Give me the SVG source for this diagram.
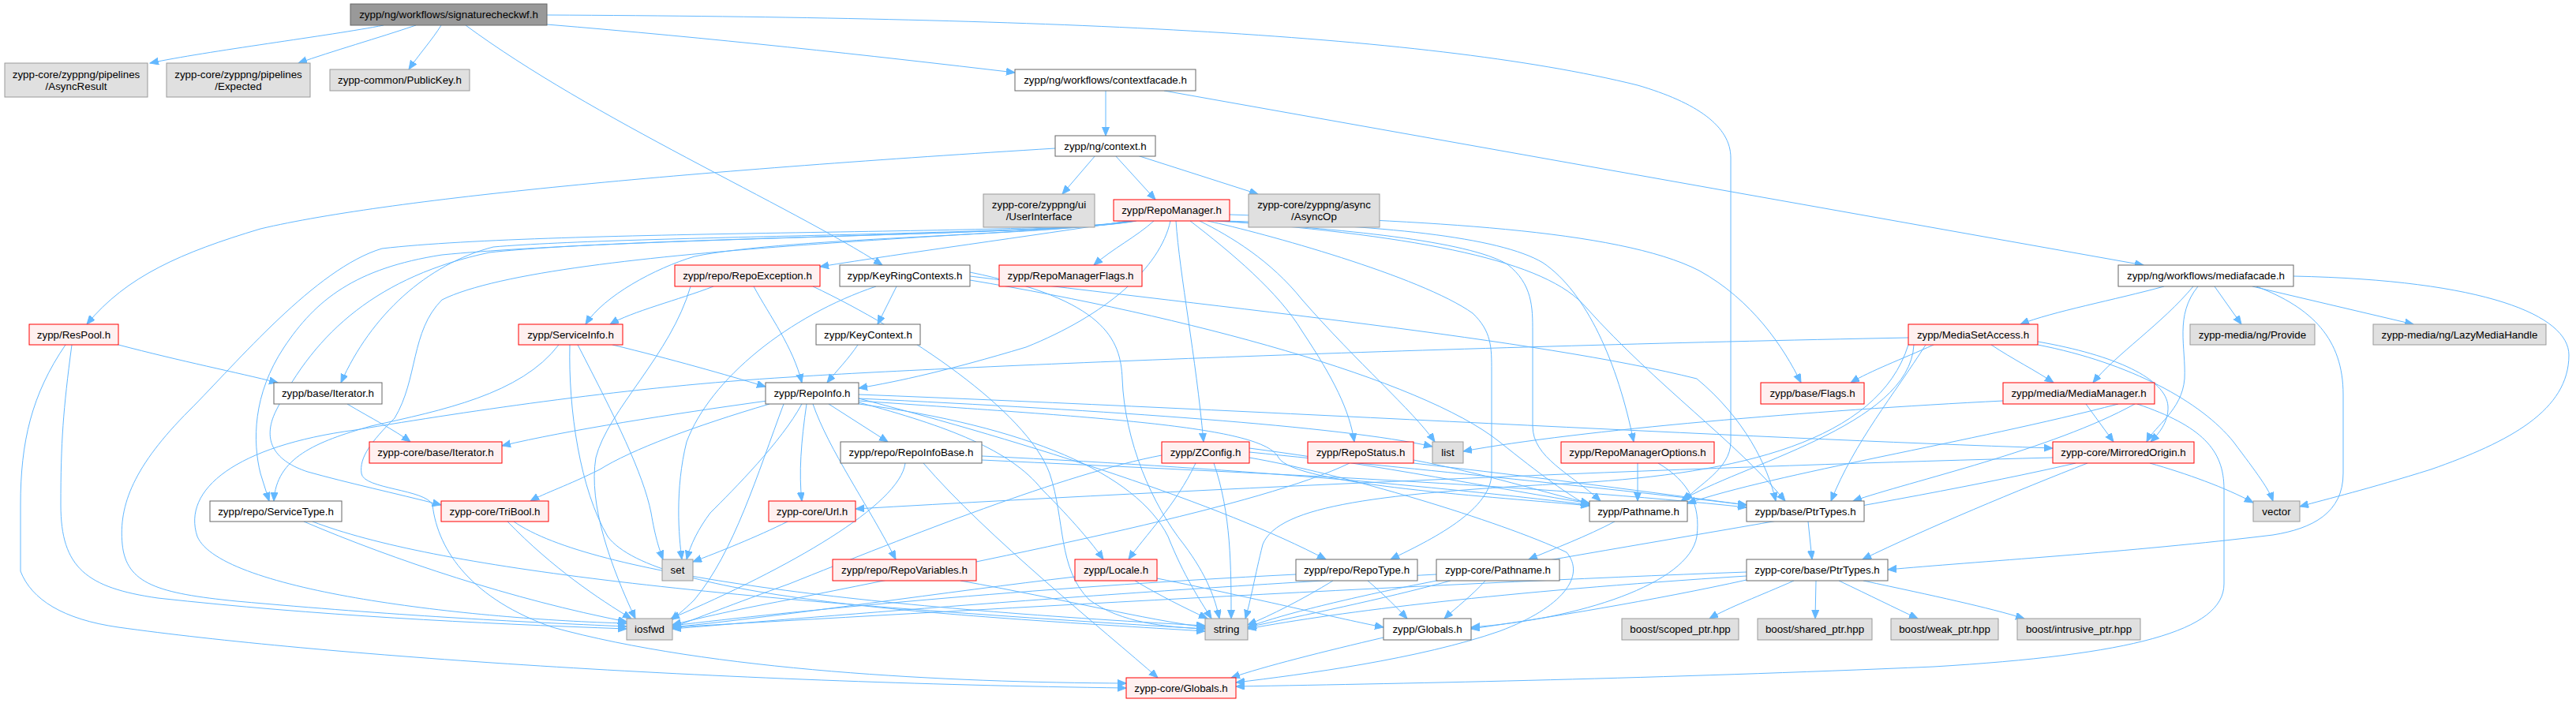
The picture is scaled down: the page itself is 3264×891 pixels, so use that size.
<svg xmlns="http://www.w3.org/2000/svg" width="3264" height="891" viewBox="0 0 3264 891">
<style>
rect.g{fill:#e0e0e0;stroke:#999999;stroke-width:1}
rect.w{fill:#ffffff;stroke:#666666;stroke-width:1}
rect.r{fill:#fff0f0;stroke:#ff0000;stroke-width:1}
rect.root{fill:#999999;stroke:#666666;stroke-width:1}
text{font-family:"Liberation Sans",Arial,Helvetica,sans-serif;font-size:13.33px;text-anchor:middle;fill:#000000}
#edges path{fill:none;stroke:#63b8ff;stroke-width:1;marker-end:url(#a)}
</style>
<defs>
<marker id="a" markerUnits="userSpaceOnUse" markerWidth="12" markerHeight="10" refX="11" refY="4.5" orient="auto"><path d="M0,0 L11,4.5 L0,9 z" fill="#63b8ff" stroke="#63b8ff" stroke-width="1"/></marker>
</defs>
<rect width="3264" height="891" fill="#ffffff"/>
<g id="edges">
<path d="M486,32 C420,45 260,65 190,80"/>
<path d="M527,32 C480,48 420,65 378,80"/>
<path d="M559,32 C548,50 530,70 518,88"/>
<path d="M693,31 C900,48 1100,70 1286,92"/>
<path d="M590,32 C750,150 1000,260 1118,336"/>
<path d="M693,19 C1300,22 1800,40 2075,108 C2150,130 2193,160 2193,200 L2193,560 C2193,595 2150,615 2134,635"/>
<path d="M1401,115 L1401,172"/>
<path d="M1475,115 L2716,336"/>
<path d="M1388,197 L1346,246"/>
<path d="M1413,197 L1464,253"/>
<path d="M1441,197 L1594,246"/>
<path d="M1337,188 C900,215 500,250 330,290 C230,320 160,350 110,411"/>
<path d="M2742,363 C2680,380 2600,395 2560,411"/>
<path d="M2779,363 C2740,410 2680,450 2652,485"/>
<path d="M2785,363 C2755,400 2770,440 2768,480 C2765,520 2730,540 2720,560"/>
<path d="M2806,363 L2840,411"/>
<path d="M2854,363 L3058,411"/>
<path d="M2859,363 C2930,390 2969,430 2969,500 L2969,600 C2969,650 2930,670 2880,678 C2700,700 2500,712 2392,722"/>
<path d="M2906,350 C3150,355 3255,400 3255,450 C3255,520 3180,560 3080,595 C3000,620 2950,632 2914,642"/>
<path d="M150,437 C230,458 300,472 352,485"/>
<path d="M91,437 C80,520 77,560 77,640 C77,720 110,745 200,758 C400,780 600,790 794,797"/>
<path d="M83,437 C40,500 26,560 26,640 L26,724 C40,760 80,785 150,795 C400,830 900,865 1427,872"/>
<path d="M1430,280 C1300,300 1150,320 1039,338"/>
<path d="M1462,280 C1440,300 1410,315 1386,336"/>
<path d="M1428,280 C1350,298 1000,300 880,325 C830,340 765,375 742,411"/>
<path d="M1432,280 C1350,298 800,298 625,313 C540,335 470,400 432,485"/>
<path d="M1434,280 C1350,298 700,290 484,315 C400,340 300,460 240,520 C170,590 150,640 155,690 C160,740 200,752 300,762 C500,780 650,788 794,794"/>
<path d="M1436,280 C1350,298 800,300 560,323 C450,340 400,380 360,440 C320,500 320,560 330,600 L341,635"/>
<path d="M1438,280 C1350,298 800,300 620,320 C480,350 400,420 350,520 C330,560 350,585 390,598 C440,612 500,625 559,640"/>
<path d="M1520,280 C1560,300 1610,330 1650,380 C1720,460 1790,520 1818,560"/>
<path d="M1508,280 C1560,320 1620,370 1650,420 C1690,480 1710,520 1716,560"/>
<path d="M1548,280 C1750,285 1900,300 1955,333 C2010,370 2050,460 2070,560"/>
<path d="M1558,272 C1800,280 2050,290 2153,343 C2220,380 2260,440 2282,485"/>
<path d="M1540,280 C1700,290 1860,305 1910,335 C1942,360 1942,390 1942,420 L1942,540 C1942,580 1990,600 2028,635"/>
<path d="M1530,280 C1600,295 1800,350 1866,397 C1890,420 1890,440 1890,470 L1890,600 C1890,650 1800,690 1762,709"/>
<path d="M1552,280 C1800,300 1960,330 2010,390 C2100,490 2200,560 2262,635"/>
<path d="M1490,280 C1495,350 1515,450 1525,560"/>
<path d="M1483,280 C1470,340 1400,400 1300,440 C1200,470 1140,483 1088,492"/>
<path d="M1440,280 C1350,298 700,310 560,380 C520,420 530,480 500,530 C470,560 455,580 458,600 C460,620 540,620 548,640 C555,700 600,760 700,795 C900,850 1200,865 1427,866"/>
<path d="M904,363 C860,380 800,395 773,411"/>
<path d="M955,363 C975,400 1005,440 1016,485"/>
<path d="M875,363 C850,450 770,520 755,580 C745,640 775,720 805,784"/>
<path d="M1030,363 C1150,420 1300,520 1330,600 C1350,660 1340,720 1380,760 C1420,790 1480,795 1527,797"/>
<path d="M1136,363 L1112,411"/>
<path d="M1110,363 C1000,400 900,480 870,560 C855,620 860,680 864,709"/>
<path d="M1229,345 C1400,380 1420,430 1422,480 C1425,560 1460,640 1500,690 C1530,730 1540,760 1545,784"/>
<path d="M1229,355 C1500,400 1800,480 1900,560 C1950,600 1990,630 2014,641"/>
<path d="M1229,350 C1550,390 1950,430 2150,480 C2210,530 2240,590 2250,635"/>
<path d="M1087,437 C1075,455 1060,470 1048,485"/>
<path d="M776,437 C850,455 920,475 970,490"/>
<path d="M708,437 C660,500 560,520 470,540 C400,560 350,580 347,635"/>
<path d="M732,437 C780,530 815,600 825,650 C830,680 835,695 840,709"/>
<path d="M722,437 C720,520 735,620 770,680 C830,760 1200,780 1527,800"/>
<path d="M440,512 C470,530 500,545 520,560"/>
<path d="M972,508 C850,525 720,545 636,565"/>
<path d="M1016,512 C990,560 930,620 900,650 C885,670 875,690 870,709"/>
<path d="M993,512 C960,600 930,700 880,760 C865,775 855,782 850,786"/>
<path d="M1022,512 C1015,560 1012,600 1016,635"/>
<path d="M1030,512 C1050,570 1100,640 1135,709"/>
<path d="M1050,512 L1125,560"/>
<path d="M1088,510 C1200,540 1280,570 1320,620 C1360,660 1385,690 1398,709"/>
<path d="M975,512 C880,540 800,570 760,595 C720,615 690,625 672,635"/>
<path d="M1088,505 C1300,560 1550,640 1680,709"/>
<path d="M1088,500 C1600,520 2200,555 2601,568"/>
<path d="M1088,505 C1400,520 1700,540 1815,566"/>
<path d="M1088,508 C1400,530 1600,540 1620,580 C1640,615 1900,630 2014,641"/>
<path d="M1088,512 C1300,540 1440,600 1480,680 C1500,730 1520,760 1535,784"/>
<path d="M2450,437 C2410,455 2370,470 2345,485"/>
<path d="M2523,437 C2550,455 2580,470 2602,485"/>
<path d="M2582,433 C2680,450 2745,480 2747,515 C2748,535 2735,550 2725,560"/>
<path d="M2582,437 C2700,460 2790,510 2830,560 C2860,600 2875,620 2880,635"/>
<path d="M2418,428 C1800,440 1200,465 1000,478 C800,490 600,520 450,545 C300,565 230,620 250,680 C280,750 600,785 794,790"/>
<path d="M2440,437 C2400,500 2350,560 2320,635"/>
<path d="M2425,437 C2420,540 2200,590 2130,635"/>
<path d="M2418,437 C2380,560 2200,600 2000,612 C1750,625 1620,640 1600,690 C1590,730 1585,760 1578,784"/>
<path d="M2538,508 C2300,520 2000,545 1854,572"/>
<path d="M2643,512 L2678,560"/>
<path d="M2708,512 C2790,540 2818,570 2818,620 L2818,740 C2818,800 2700,830 2450,845 C2100,860 1800,866 1566,870"/>
<path d="M2684,512 C2500,560 2250,600 2138,638"/>
<path d="M2705,512 C2600,570 2420,610 2348,635"/>
<path d="M2601,580 C2200,590 1600,615 1084,645"/>
<path d="M2724,587 C2770,600 2820,618 2855,637"/>
<path d="M2645,587 C2560,620 2440,670 2360,709"/>
<path d="M2630,587 C2400,640 2000,700 1800,740 C1700,760 1620,780 1581,795"/>
<path d="M998,661 C960,680 910,700 878,712"/>
<path d="M1147,587 C1140,640 1000,720 850,784"/>
<path d="M1170,587 C1250,680 1400,800 1467,859"/>
<path d="M1244,578 C1600,595 1850,620 2014,640"/>
<path d="M1244,583 C1600,600 1950,615 2213,643"/>
<path d="M1515,587 C1490,640 1450,680 1430,709"/>
<path d="M1538,587 C1560,650 1560,720 1560,784"/>
<path d="M1472,577 C1350,600 1150,680 1000,740 C930,765 880,785 852,795"/>
<path d="M1583,568 C1750,590 1900,620 2014,638"/>
<path d="M1583,573 C1800,595 2050,620 2213,640"/>
<path d="M1583,580 C1700,600 1900,660 1985,700 C2010,730 1980,770 1900,800 C1800,835 1650,855 1566,865"/>
<path d="M1710,587 C1600,640 1300,700 1000,760 C920,775 880,785 852,792"/>
<path d="M1791,583 C1880,600 1960,625 2014,638"/>
<path d="M1791,587 C1950,605 2100,625 2213,640"/>
<path d="M2075,587 L2075,635"/>
<path d="M2101,587 C2140,610 2155,640 2150,680 C2140,740 2000,785 1864,795"/>
<path d="M2046,661 C2010,680 1970,695 1937,709"/>
<path d="M2291,661 L2296,709"/>
<path d="M385,661 C500,710 650,760 794,788"/>
<path d="M396,661 C550,720 900,760 1527,797"/>
<path d="M643,661 C700,720 760,760 800,784"/>
<path d="M651,661 C750,730 1100,770 1527,793"/>
<path d="M1217,736 C1350,760 1450,785 1527,795"/>
<path d="M1362,731 C1200,750 1000,780 852,795"/>
<path d="M1438,736 C1470,755 1500,770 1530,784"/>
<path d="M1466,733 C1600,760 1700,785 1753,795"/>
<path d="M1642,728 C1300,745 1000,775 852,793"/>
<path d="M1733,736 C1755,755 1770,770 1783,784"/>
<path d="M1689,736 C1650,760 1610,780 1581,792"/>
<path d="M1882,736 C1865,755 1845,770 1830,784"/>
<path d="M1838,736 C1750,760 1650,780 1581,795"/>
<path d="M1820,728 C1400,750 1000,785 852,797"/>
<path d="M2273,736 C2230,755 2190,770 2166,784"/>
<path d="M2301,736 L2300,784"/>
<path d="M2330,736 C2370,755 2400,770 2430,784"/>
<path d="M2361,736 C2450,755 2520,770 2565,784"/>
<path d="M2213,725 C1800,740 1200,775 852,795"/>
<path d="M2213,730 C1900,750 1700,775 1581,797"/>
<path d="M2213,735 C2100,760 1950,785 1864,797"/>
<path d="M1753,808 C1680,825 1600,845 1560,859"/>
</g>
<g id="n_sig"><rect class="root" x="444" y="5" width="249" height="27"/><text x="568.5" y="23.2">zypp/ng/workflows/signaturecheckwf.h</text></g>
<g id="n_asyncresult"><rect class="g" x="6" y="80" width="181" height="43"/><text x="96.5" y="98.5">zypp-core/zyppng/pipelines</text><text x="96.5" y="113.5">/AsyncResult</text></g>
<g id="n_expected"><rect class="g" x="211" y="80" width="182" height="43"/><text x="302" y="98.5">zypp-core/zyppng/pipelines</text><text x="302" y="113.5">/Expected</text></g>
<g id="n_publickey"><rect class="g" x="418" y="88" width="177" height="27"/><text x="506.5" y="106.2">zypp-common/PublicKey.h</text></g>
<g id="n_contextfacade"><rect class="w" x="1286" y="88" width="229" height="27"/><text x="1400.5" y="106.2">zypp/ng/workflows/contextfacade.h</text></g>
<g id="n_context"><rect class="w" x="1337" y="172" width="127" height="26"/><text x="1400.5" y="189.7">zypp/ng/context.h</text></g>
<g id="n_userinterface"><rect class="g" x="1246" y="246" width="141" height="42"/><text x="1316.5" y="264.2">zypp-core/zyppng/ui</text><text x="1316.5" y="279.2">/UserInterface</text></g>
<g id="n_repomanager"><rect class="r" x="1411" y="253" width="147" height="27"/><text x="1484.5" y="271.2">zypp/RepoManager.h</text></g>
<g id="n_asyncop"><rect class="g" x="1582" y="246" width="166" height="42"/><text x="1665" y="264.2">zypp-core/zyppng/async</text><text x="1665" y="279.2">/AsyncOp</text></g>
<g id="n_mediafacade"><rect class="w" x="2684" y="336" width="222" height="27"/><text x="2795" y="354.2">zypp/ng/workflows/mediafacade.h</text></g>
<g id="n_repoexception"><rect class="r" x="855" y="336" width="184" height="27"/><text x="947" y="354.2">zypp/repo/RepoException.h</text></g>
<g id="n_keyringcontexts"><rect class="w" x="1064" y="336" width="165" height="27"/><text x="1146.5" y="354.2">zypp/KeyRingContexts.h</text></g>
<g id="n_repomanagerflags"><rect class="r" x="1266" y="336" width="181" height="27"/><text x="1356.5" y="354.2">zypp/RepoManagerFlags.h</text></g>
<g id="n_respool"><rect class="r" x="37" y="411" width="113" height="26"/><text x="93.5" y="428.7">zypp/ResPool.h</text></g>
<g id="n_serviceinfo"><rect class="r" x="657" y="411" width="132" height="26"/><text x="723" y="428.7">zypp/ServiceInfo.h</text></g>
<g id="n_keycontext"><rect class="w" x="1034" y="411" width="132" height="26"/><text x="1100" y="428.7">zypp/KeyContext.h</text></g>
<g id="n_mediasetaccess"><rect class="r" x="2418" y="411" width="164" height="26"/><text x="2500" y="428.7">zypp/MediaSetAccess.h</text></g>
<g id="n_provide"><rect class="g" x="2775" y="411" width="158" height="26"/><text x="2854" y="428.7">zypp-media/ng/Provide</text></g>
<g id="n_lazymediahandle"><rect class="g" x="3007" y="411" width="219" height="26"/><text x="3116.5" y="428.7">zypp-media/ng/LazyMediaHandle</text></g>
<g id="n_baseiterator"><rect class="w" x="347" y="485" width="137" height="27"/><text x="415.5" y="503.2">zypp/base/Iterator.h</text></g>
<g id="n_repoinfo"><rect class="w" x="970" y="485" width="118" height="27"/><text x="1029" y="503.2">zypp/RepoInfo.h</text></g>
<g id="n_flags"><rect class="r" x="2231" y="485" width="131" height="27"/><text x="2296.5" y="503.2">zypp/base/Flags.h</text></g>
<g id="n_mediamanager"><rect class="r" x="2538" y="485" width="192" height="27"/><text x="2634" y="503.2">zypp/media/MediaManager.h</text></g>
<g id="n_coreiterator"><rect class="r" x="468" y="560" width="168" height="27"/><text x="552" y="578.2">zypp-core/base/Iterator.h</text></g>
<g id="n_repoinfobase"><rect class="w" x="1065" y="560" width="179" height="27"/><text x="1154.5" y="578.2">zypp/repo/RepoInfoBase.h</text></g>
<g id="n_zconfig"><rect class="r" x="1472" y="560" width="111" height="27"/><text x="1527.5" y="578.2">zypp/ZConfig.h</text></g>
<g id="n_repostatus"><rect class="r" x="1657" y="560" width="134" height="27"/><text x="1724" y="578.2">zypp/RepoStatus.h</text></g>
<g id="n_list"><rect class="g" x="1815" y="560" width="39" height="27"/><text x="1834.5" y="578.2">list</text></g>
<g id="n_repomanageroptions"><rect class="r" x="1978" y="560" width="194" height="27"/><text x="2075" y="578.2">zypp/RepoManagerOptions.h</text></g>
<g id="n_mirroredorigin"><rect class="r" x="2601" y="560" width="179" height="27"/><text x="2690.5" y="578.2">zypp-core/MirroredOrigin.h</text></g>
<g id="n_servicetype"><rect class="w" x="266" y="635" width="167" height="26"/><text x="349.5" y="652.7">zypp/repo/ServiceType.h</text></g>
<g id="n_tribool"><rect class="r" x="559" y="635" width="136" height="26"/><text x="627" y="652.7">zypp-core/TriBool.h</text></g>
<g id="n_url"><rect class="r" x="974" y="635" width="110" height="26"/><text x="1029" y="652.7">zypp-core/Url.h</text></g>
<g id="n_pathname"><rect class="w" x="2014" y="635" width="124" height="26"/><text x="2076" y="652.7">zypp/Pathname.h</text></g>
<g id="n_baseptrtypes"><rect class="w" x="2213" y="635" width="149" height="26"/><text x="2287.5" y="652.7">zypp/base/PtrTypes.h</text></g>
<g id="n_vector"><rect class="g" x="2855" y="635" width="59" height="26"/><text x="2884.5" y="652.7">vector</text></g>
<g id="n_set"><rect class="g" x="839" y="709" width="39" height="27"/><text x="858.5" y="727.2">set</text></g>
<g id="n_repovariables"><rect class="r" x="1055" y="709" width="182" height="27"/><text x="1146" y="727.2">zypp/repo/RepoVariables.h</text></g>
<g id="n_locale"><rect class="r" x="1362" y="709" width="104" height="27"/><text x="1414" y="727.2">zypp/Locale.h</text></g>
<g id="n_repotype"><rect class="w" x="1642" y="709" width="154" height="27"/><text x="1719" y="727.2">zypp/repo/RepoType.h</text></g>
<g id="n_corepathname"><rect class="w" x="1820" y="709" width="156" height="27"/><text x="1898" y="727.2">zypp-core/Pathname.h</text></g>
<g id="n_coreptrtypes"><rect class="w" x="2213" y="709" width="179" height="27"/><text x="2302.5" y="727.2">zypp-core/base/PtrTypes.h</text></g>
<g id="n_iosfwd"><rect class="g" x="794" y="784" width="58" height="27"/><text x="823" y="802.2">iosfwd</text></g>
<g id="n_string"><rect class="g" x="1527" y="784" width="54" height="27"/><text x="1554" y="802.2">string</text></g>
<g id="n_globals"><rect class="w" x="1753" y="784" width="111" height="27"/><text x="1808.5" y="802.2">zypp/Globals.h</text></g>
<g id="n_scoped"><rect class="g" x="2055" y="784" width="148" height="27"/><text x="2129" y="802.2">boost/scoped_ptr.hpp</text></g>
<g id="n_shared"><rect class="g" x="2227" y="784" width="145" height="27"/><text x="2299.5" y="802.2">boost/shared_ptr.hpp</text></g>
<g id="n_weak"><rect class="g" x="2396" y="784" width="136" height="27"/><text x="2464" y="802.2">boost/weak_ptr.hpp</text></g>
<g id="n_intrusive"><rect class="g" x="2556" y="784" width="156" height="27"/><text x="2634" y="802.2">boost/intrusive_ptr.hpp</text></g>
<g id="n_coreglobals"><rect class="r" x="1427" y="859" width="139" height="26"/><text x="1496.5" y="876.7">zypp-core/Globals.h</text></g>
</svg>
